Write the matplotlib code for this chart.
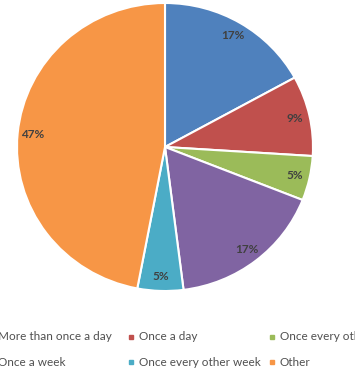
import matplotlib
matplotlib.use("Agg")
import matplotlib.pyplot as plt
import matplotlib.patches as mpatches

labels = ["More than once a day", "Once a day", "Once every other day",
          "Once a week", "Once every other week", "Other"]
values = [17, 9, 5, 17, 5, 47]
colors = ["#4F81BD", "#C0504D", "#9BBB59", "#8064A2", "#4BACC6", "#F79646"]

W, H = 355, 382


def fx(px):
    return px / W


def fy(py):
    return 1 - py / H


def main():
    plt.rcParams['font.family'] = ['Lato', 'DejaVu Sans']
    fig = plt.figure(figsize=(W / 100, H / 100), dpi=100)

    # pie box: x 17..313, y 3..291 (pixels)
    ax = fig.add_axes([fx(17), fy(291), (313 - 17) / W, (291 - 3) / H])
    wedges, texts, autotexts = ax.pie(
        values, colors=colors, startangle=90, counterclock=False,
        autopct="%d%%", pctdistance=0.9,
        wedgeprops=dict(edgecolor="white", linewidth=1.5),
        textprops=dict(color="#404040", fontsize=8.5, fontweight="bold"))
    ax.set_aspect("auto")
    ax.set_xlim(-1, 1)
    ax.set_ylim(-1, 1)
    ax.axis("off")

    # legend laid out row by row, like the original (it runs off both sides)
    for i, (lab, col) in enumerate(zip(labels, colors)):
        row, c = divmod(i, 3)
        x0 = -10 + 141 * c
        y0 = 337 + 25 * row
        fig.patches.append(mpatches.Rectangle(
            (fx(x0 - 2), fy(y0 + 2)), 4 / W, 4 / H,
            transform=fig.transFigure, color=col, figure=fig))
        fig.text(fx(x0 + 8), fy(y0), lab, fontsize=8.5, color="#505050",
                 va="center", ha="left")

    fig.savefig("out.png", dpi=100)


if __name__ == "__main__":
    main()
